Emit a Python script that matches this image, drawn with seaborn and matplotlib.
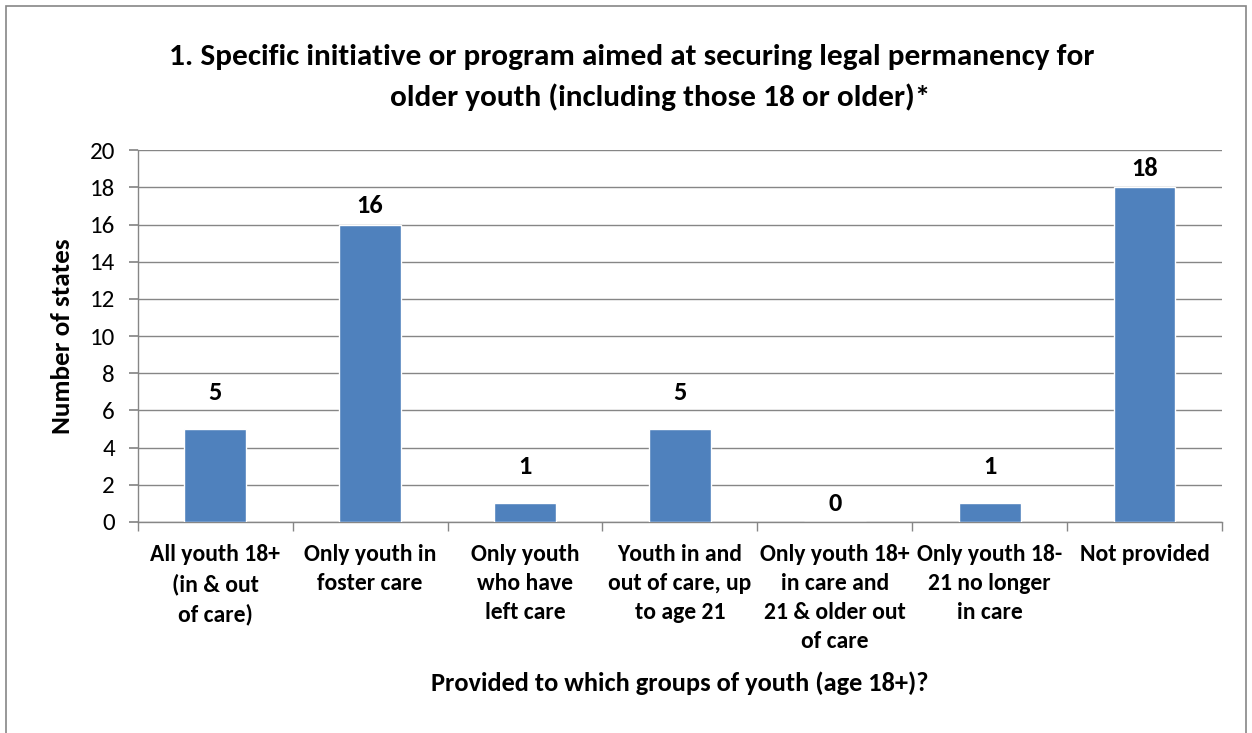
import matplotlib
matplotlib.use("Agg")
import matplotlib.pyplot as plt
import seaborn as sns
import pandas as pd
from matplotlib.patches import Rectangle

categories = [
    "All youth 18+\n(in & out\nof care)",
    "Only youth in\nfoster care",
    "Only youth\nwho have\nleft care",
    "Youth in and\nout of care, up\nto age 21",
    "Only youth 18+\nin care and\n21 & older out\nof care",
    "Only youth 18-\n21 no longer\nin care",
    "Not provided",
]
counts = [5, 16, 1, 5, 0, 1, 18]
y_ticks = [0, 2, 4, 6, 8, 10, 12, 14, 16, 18, 20]

title_lines = ["1. Specific initiative or program aimed at securing legal permanency for",
               "older youth (including those 18 or older)*"]
x_label = "Provided to which groups of youth (age 18+)?"
y_label = "Number of states"

sns.set_theme(style="white")
plt.rcParams["font.family"] = ["Carlito", "DejaVu Sans"]
plt.rcParams["text.color"] = "black"
plt.rcParams["axes.labelcolor"] = "black"
plt.rcParams["xtick.color"] = "black"
plt.rcParams["ytick.color"] = "black"

df = pd.DataFrame({"group": categories, "states": counts})

fig = plt.figure(figsize=(12.52, 7.33), dpi=100)
ax = fig.add_axes([0.110, 0.288, 0.866, 0.507])

sns.barplot(data=df, x="group", y="states", color="#4F81BD", width=0.4,
            saturation=1, ax=ax, zorder=3)

ax.set_ylim(0, 20)
ax.set_yticks(y_ticks)
ax.set_xlim(-0.5, len(categories) - 0.5)
ax.yaxis.grid(True, color="#868686", linewidth=1.0, zorder=0)
ax.set_axisbelow(True)

for side in ["top", "right"]:
    ax.spines[side].set_visible(False)
for side in ["left", "bottom"]:
    ax.spines[side].set_color("#868686")
    ax.spines[side].set_linewidth(1.0)

ax.tick_params(axis="y", which="both", left=True, length=6.5, color="#868686",
               labelsize=18, pad=10, labelcolor="black")

# category labels centred on bars, tick marks at category boundaries
ax.set_xticks(range(len(categories)))
ax.set_xticklabels(categories, fontsize=17, fontweight="bold", linespacing=1.47,
                   va="top")
ax.tick_params(axis="x", which="major", length=0, pad=16, labelcolor="black")
ax.set_xticks([i - 0.5 for i in range(len(categories) + 1)], minor=True)
ax.tick_params(axis="x", which="minor", bottom=True, length=6.5, color="#868686")

# value labels above each bar (the short bars carry a slightly higher label)
for i, v in enumerate(counts):
    lift = 26.5 if v in (1, 5) else 13.5
    ax.annotate(str(v), xy=(i, v), xytext=(0, lift), textcoords="offset points",
                ha="center", va="center", fontsize=19, fontweight="bold")

ax.set_xlabel(x_label, fontsize=19, fontweight="bold", labelpad=14)
ax.set_ylabel(y_label, fontsize=19.5, fontweight="bold", labelpad=11)

fig.text(632 / 1252, 1 - 57 / 733, title_lines[0], ha="center", va="center",
         fontsize=22.5, fontweight="bold")
fig.text(660 / 1252, 1 - 97 / 733, title_lines[1], ha="center", va="center",
         fontsize=22.5, fontweight="bold")

fig.patches.append(Rectangle((6 / 1252, -0.01), 1 - 12 / 1252, 1 - 6 / 733 + 0.01,
                             transform=fig.transFigure, fill=False,
                             edgecolor="#868686", linewidth=1.2))

fig.savefig("out.png", dpi=100, facecolor="white")
